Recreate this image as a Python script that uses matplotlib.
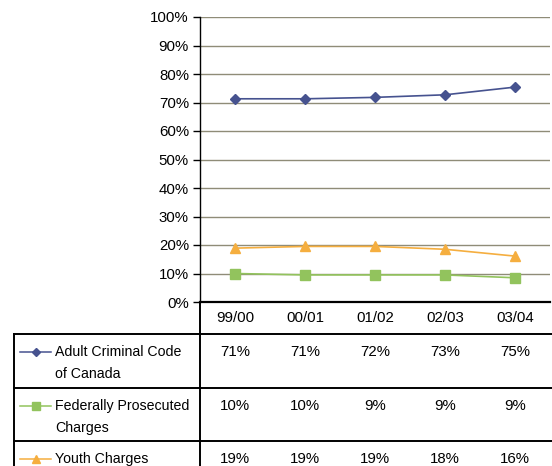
import numpy as np
import matplotlib
matplotlib.use('Agg')
import matplotlib.pyplot as plt

plt.rcParams['font.family'] = ['Liberation Sans', 'DejaVu Sans']

years = ['99/00', '00/01', '01/02', '02/03', '03/04']
adult = [71.3, 71.3, 71.8, 72.7, 75.4]
federal = [10.0, 9.5, 9.5, 9.5, 8.5]
youth = [18.9, 19.5, 19.5, 18.5, 16.1]
adult_lbl = ['71%', '71%', '72%', '73%', '75%']
federal_lbl = ['10%', '10%', '9%', '9%', '9%']
youth_lbl = ['19%', '19%', '19%', '18%', '16%']
series_names = ['Adult Criminal Code\nof Canada', 'Federally Prosecuted\nCharges', 'Youth Charges']

colors = ['#46528f', '#92c35d', '#f5ae3f']
markers = ['D', 's', '^']
msizes = [5.5, 7, 7.5]
fs = 10.2

W, H = 552, 466
fig = plt.figure(figsize=(W / 100, H / 100), dpi=100)

# plot area in pixel units
left, right, top, bottom = 200, 550, 17, 302
ax = fig.add_axes([left / W, 1 - bottom / H, (right - left) / W, (bottom - top) / H])
x = np.arange(len(years))
for vals, c, m, ms in zip([adult, federal, youth], colors, markers, msizes):
    ax.plot(x, vals, color=c, marker=m, markersize=ms, linewidth=1.2, clip_on=False)
ax.set_xlim(-0.5, len(years) - 0.5)
ax.set_ylim(0, 100)
ax.set_yticks(range(0, 101, 10))
ax.set_yticklabels([f'{v}%' for v in range(0, 101, 10)], fontsize=fs + 0.6)
ax.set_xticks([])
for v in range(10, 101, 10):
    ax.axhline(v, color='#8f8c78', linewidth=1.0, zorder=0)
for s in ['top', 'right', 'bottom']:
    ax.spines[s].set_visible(False)
ax.spines['left'].set_linewidth(1.0)
ax.axhline(0, color='black', linewidth=1.6, clip_on=False)
ax.tick_params(axis='y', length=5, width=1, pad=3)

# data table below the chart, drawn in pixel coordinates
tb = fig.add_axes([0, 0, 1, 1 - bottom / H])
tb.set_xlim(0, W)
tb.set_ylim(H, bottom)
tb.axis('off')
col_w = (right - left) / len(years)
row_tops = [334, 388, 441]
lc = 'black'
tb.plot([left, left], [bottom, H], color=lc, lw=1.4)
for rt in row_tops:
    tb.plot([14, W], [rt, rt], color=lc, lw=1.4)
tb.plot([14, 14], [row_tops[0], H], color=lc, lw=1.4)

for i, yr in enumerate(years):
    tb.text(left + col_w * (i + 0.5), 318.5, yr, ha='center', va='center', fontsize=fs + 0.6)

labels = [adult_lbl, federal_lbl, youth_lbl]
for r, (name, lbls, c, m, ms) in enumerate(zip(series_names, labels, colors, markers, msizes)):
    y0 = row_tops[r] + 18
    tb.plot([20, 51], [y0, y0], color=c, lw=1.1)
    tb.plot([35.5], [y0], color=c, marker=m, markersize=ms - 1.5)
    tb.text(55, y0 - 7, name, ha='left', va='top', fontsize=fs, linespacing=1.7)
    for i, t in enumerate(lbls):
        tb.text(left + col_w * (i + 0.5), y0 - 7, t, ha='center', va='top', fontsize=fs + 0.6)

fig.savefig('out.png', dpi=100)
